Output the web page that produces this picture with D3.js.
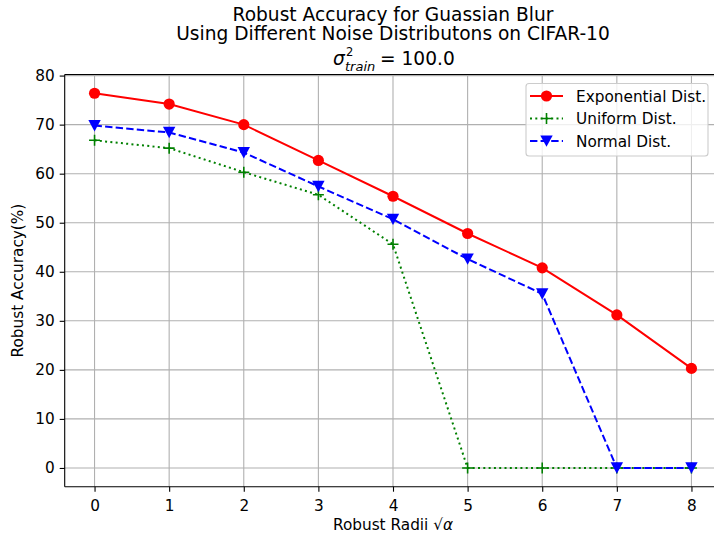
<!DOCTYPE html>
<html><head><meta charset="utf-8">
<script src="https://cdn.jsdelivr.net/npm/d3@7"></script>
<style>body{margin:0;background:#fff}svg{display:block;font-family:"DejaVu Sans",sans-serif}</style>
</head><body><svg id="c" width="714" height="538"></svg>
<script>
const radii = [0,1,2,3,4,5,6,7,8];
const expAcc = [76.4,74.2,70.0,62.7,55.4,47.8,40.8,31.2,20.3];
const uniAcc = [66.8,65.2,60.3,55.7,45.6,0,0,0,0];
const normAcc = [69.8,68.4,64.3,57.4,50.7,42.6,35.5,0,0];
const yTicks = [0,10,20,30,40,50,60,70,80];
const seriesNames = ["Exponential Dist.","Uniform Dist.","Normal Dist."];

const svg = d3.select("#c");
const L=64.7, R=721.3, T=74.5, B=486.7;
const FS = 15.3;
const x = d3.scaleLinear().domain([-0.4,8.4]).range([L,R]);
const y = d3.scaleLinear().domain([-3.82,80.22]).range([B,T]);

const defs = svg.append("defs");
defs.append("clipPath").attr("id","clip").append("rect").attr("x",L).attr("y",T).attr("width",R-L).attr("height",B-T);

// grid
const g = svg.append("g");
g.selectAll(".gx").data(radii).join("line").attr("x1",d=>x(d)).attr("x2",d=>x(d)).attr("y1",T).attr("y2",B)
  .attr("stroke","#b0b0b0").attr("stroke-width",1.1);
g.selectAll(".gy").data(yTicks).join("line").attr("y1",d=>y(d)).attr("y2",d=>y(d)).attr("x1",L).attr("x2",R)
  .attr("stroke","#b0b0b0").attr("stroke-width",1.1);

// axes
const xAxis = d3.axisBottom(x).tickValues(radii).tickSize(5).tickPadding(5);
const yAxis = d3.axisLeft(y).tickValues(yTicks).tickSize(5).tickPadding(5);
const ax = svg.append("g").attr("transform",`translate(0,${B})`).call(xAxis);
const ay = svg.append("g").attr("transform",`translate(${L},0)`).call(yAxis);
[ax,ay].forEach(a=>{a.select(".domain").remove();
  a.selectAll("text").attr("font-size",FS).attr("fill","#000").attr("font-family","DejaVu Sans");
  a.selectAll("line").attr("stroke","#000").attr("stroke-width",1.1);});
ax.selectAll("text").attr("dy","0.95em");
// spines
svg.append("line").attr("x1",L).attr("x2",L).attr("y1",T).attr("y2",B).attr("stroke","#000").attr("stroke-width",1.1);
svg.append("line").attr("x1",L).attr("x2",R).attr("y1",B).attr("y2",B).attr("stroke","#000").attr("stroke-width",1.1);
svg.append("line").attr("x1",L).attr("x2",R).attr("y1",T).attr("y2",T).attr("stroke","#000").attr("stroke-width",1.1);

// series
const plot = svg.append("g").attr("clip-path","url(#clip)");
const line = d3.line().x((d,i)=>x(radii[i])).y(d=>y(d));
const styles = [
  {data:expAcc,color:"#ff0000",dash:null,marker:"circle"},
  {data:uniAcc,color:"#008000",dash:"2,3.3",marker:"plus"},
  {data:normAcc,color:"#0000ff",dash:"7.4,3.2",marker:"tri"}
];
function drawMarker(sel,type,color){
  if(type==="circle") sel.append("circle").attr("r",5.6).attr("fill",color);
  else if(type==="plus") sel.append("path").attr("d","M-5.5,0H5.5M0,-5.5V5.5").attr("stroke",color).attr("stroke-width",1.6).attr("fill","none");
  else sel.append("path").attr("d","M-6.2,-5.6L6.2,-5.6L0,5.8Z").attr("fill",color);
}
styles.forEach(s=>{
  plot.append("path").datum(s.data).attr("d",line).attr("fill","none").attr("stroke",s.color)
    .attr("stroke-width",2).attr("stroke-dasharray",s.dash);
});
styles.forEach(s=>{
  s.data.forEach((v,i)=>{
    const m = plot.append("g").attr("transform",`translate(${x(radii[i])},${y(v)})`);
    drawMarker(m,s.marker,s.color);
  });
});

// legend
const lg = svg.append("g");
lg.append("rect").attr("x",526).attr("y",83.5).attr("width",182).attr("height",72.5).attr("rx",3)
  .attr("fill","#fff").attr("fill-opacity",0.8).attr("stroke","#cccccc").attr("stroke-width",1.1);
const rows=[96,118.5,141];
styles.forEach((s,i)=>{
  lg.append("line").attr("x1",530).attr("x2",563).attr("y1",rows[i]).attr("y2",rows[i])
    .attr("stroke",s.color).attr("stroke-width",2).attr("stroke-dasharray",s.dash);
  drawMarker(lg.append("g").attr("transform",`translate(546.5,${rows[i]})`),s.marker,s.color);
  lg.append("text").attr("x",576).attr("y",rows[i]).attr("dy","0.36em").attr("font-size",FS).text(seriesNames[i]);
});

// titles
const tt = svg.append("g").attr("font-size",18.6).attr("fill","#000");
tt.append("text").attr("x",393).attr("y",21).attr("text-anchor","middle").text("Robust Accuracy for Guassian Blur");
tt.append("text").attr("x",393).attr("y",40).attr("text-anchor","middle").text("Using Different Noise Distributons on CIFAR-10");
// math line: σ^2_train = 100.0
tt.append("text").attr("x",333).attr("y",65).attr("font-style","italic").text("σ");
tt.append("text").attr("x",346).attr("y",56).attr("font-size",11.5).text("2");
tt.append("text").attr("x",345).attr("y",71).attr("font-size",13).attr("font-style","italic").text("train");
tt.append("text").attr("x",380).attr("y",65).text("= 100.0");

// axis labels
svg.append("text").attr("x",393).attr("y",530).attr("text-anchor","middle").attr("font-size",FS)
  .html('Robust Radii √<tspan font-style="italic">α</tspan>');
svg.append("text").attr("transform","translate(23,280.6) rotate(-90)").attr("text-anchor","middle").attr("font-size",FS)
  .text("Robust Accuracy(%)");
</script></body></html>
